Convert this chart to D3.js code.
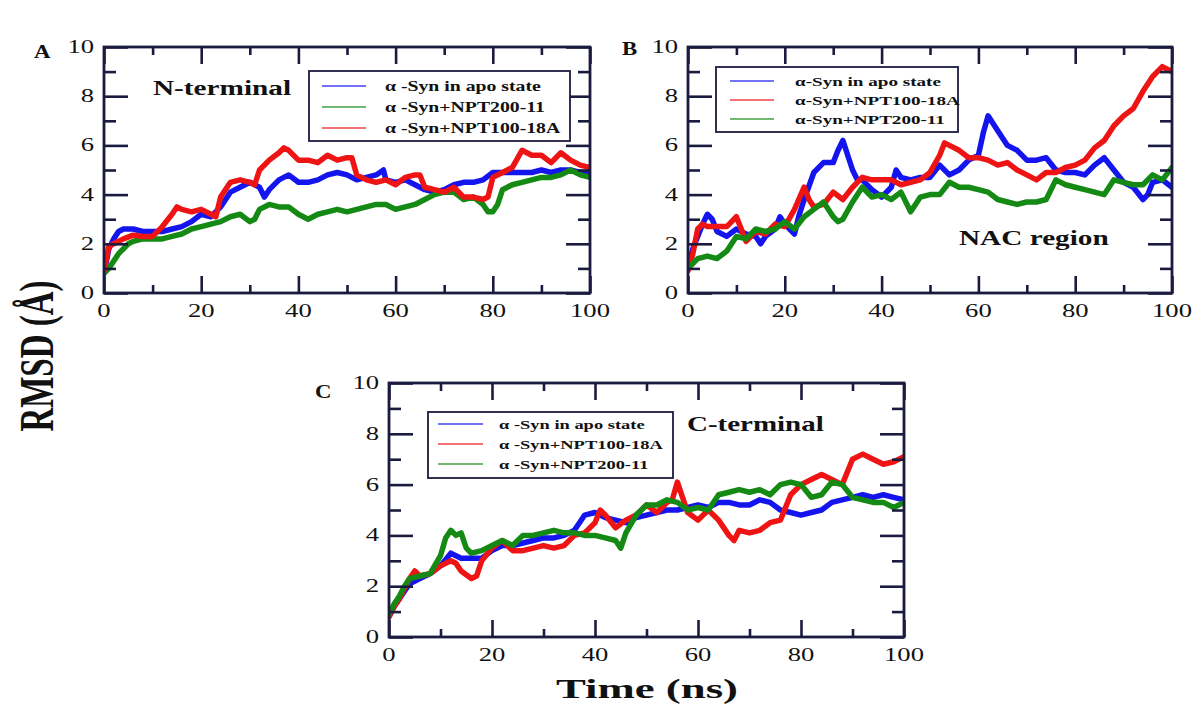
<!DOCTYPE html>
<html>
<head>
<meta charset="utf-8">
<script src="https://cdn.jsdelivr.net/npm/d3@7"></script>
<style>
  body { margin: 0; background: #fff; }
  svg { display: block; }
</style>
</head>
<body>
<svg id="fig" width="1198" height="704"></svg>
<script>
// RMSD (Å) vs time (ns) for three α-synuclein regions, values as [time, rmsd].

// ---- Panel A: N-terminal ----
const A_apo = [[0,0.8],[1,1.8],[2,2.2],[3,2.5],[4,2.6],[6,2.6],[8,2.5],[10,2.5],[12,2.5],[14,2.6],[16,2.7],[18,2.9],[20,3.2],[22,3.1],[24,3.5],[26,4.1],[28,4.3],[30,4.5],[32,4.3],[33,3.9],[34,4.2],[36,4.6],[38,4.8],[40,4.5],[42,4.5],[44,4.6],[46,4.8],[48,4.9],[50,4.8],[52,4.6],[54,4.7],[56,4.8],[57.5,5.0],[58,4.6],[60,4.5],[62,4.6],[64,4.4],[66,4.2],[68,4.1],[70,4.2],[72,4.4],[74,4.5],[76,4.5],[78,4.6],[80,4.9],[82,4.9],[84,4.9],[86,4.9],[88,4.9],[90,5.0],[92,4.9],[94,5.0],[96,5.0],[98,4.9],[100,4.9]];
const A_npt200 = [[0,0.8],[1,1.0],[2,1.3],[3,1.6],[4,1.8],[5,2.0],[6,2.1],[8,2.2],[10,2.2],[12,2.2],[14,2.3],[16,2.4],[18,2.6],[20,2.7],[22,2.8],[24,2.9],[26,3.1],[28,3.2],[30,2.9],[31,3.0],[32,3.4],[34,3.6],[36,3.5],[38,3.5],[40,3.2],[42,3.0],[44,3.2],[46,3.3],[48,3.4],[50,3.3],[52,3.4],[54,3.5],[56,3.6],[58,3.6],[60,3.4],[62,3.5],[64,3.6],[66,3.8],[68,4.0],[70,4.1],[72,4.1],[74,3.8],[76,3.9],[78,3.6],[79,3.3],[80,3.3],[81,3.6],[82,4.2],[84,4.4],[86,4.5],[88,4.6],[90,4.7],[92,4.7],[94,4.8],[96,5.0],[98,4.8],[100,4.7]];
const A_npt100 = [[0,0.9],[1,1.9],[2,2.0],[4,2.2],[6,2.35],[8,2.3],[10,2.3],[12,2.7],[14,3.2],[15,3.5],[16,3.4],[18,3.3],[20,3.4],[22,3.2],[23,3.1],[24,3.9],[26,4.5],[28,4.6],[30,4.5],[31,4.4],[32,5.0],[34,5.4],[36,5.7],[37,5.9],[38,5.8],[40,5.4],[42,5.4],[44,5.3],[46,5.6],[48,5.4],[50,5.5],[51,5.5],[52,4.8],[54,4.6],[56,4.5],[58,4.6],[60,4.4],[62,4.7],[64,4.8],[65,4.8],[66,4.3],[68,4.2],[70,4.1],[72,4.3],[74,3.9],[76,3.9],[78,3.8],[79,3.9],[80,4.7],[82,4.9],[84,5.1],[86,5.8],[88,5.6],[90,5.6],[92,5.3],[94,5.7],[96,5.4],[98,5.2],[100,5.1]];

// ---- Panel B: NAC region ----
const B_apo = [[0,1.0],[1,1.8],[2,2.3],[3,2.8],[4,3.2],[5,3.0],[6,2.5],[8,2.3],[10,2.6],[12,2.4],[14,2.3],[15,2.0],[16,2.3],[18,2.6],[19,3.1],[20,2.8],[22,2.4],[23,3.2],[24,3.8],[26,4.9],[28,5.3],[30,5.3],[31,5.8],[32,6.2],[33,5.6],[34,5.0],[35,4.6],[36,4.6],[38,4.2],[40,3.9],[42,4.3],[43,5.0],[44,4.7],[46,4.6],[48,4.7],[50,4.7],[52,5.2],[54,4.8],[56,5.0],[58,5.4],[60,5.6],[61,6.5],[62,7.2],[63,6.9],[64,6.6],[66,6.0],[68,5.8],[70,5.4],[72,5.4],[74,5.5],[76,5.0],[78,4.9],[80,4.9],[82,4.8],[84,5.2],[86,5.5],[88,5.0],[90,4.5],[92,4.3],[94,3.8],[95,4.0],[96,4.5],[98,4.6],[100,4.3]];
const B_npt100 = [[0,0.9],[1,1.6],[2,2.6],[3,2.8],[4,2.7],[6,2.7],[8,2.7],[10,3.1],[11,2.6],[12,2.1],[14,2.5],[16,2.4],[18,2.8],[20,2.7],[22,3.4],[24,4.3],[25,3.8],[26,3.5],[28,3.6],[30,4.1],[32,3.8],[34,4.3],[36,4.7],[38,4.6],[40,4.6],[42,4.6],[44,4.4],[46,4.5],[48,4.6],[50,4.9],[52,5.6],[53,6.1],[54,6.0],[56,5.8],[58,5.5],[60,5.5],[62,5.4],[64,5.2],[66,5.3],[68,5.0],[70,4.8],[72,4.6],[74,4.9],[76,4.9],[78,5.1],[80,5.2],[82,5.4],[84,5.9],[86,6.2],[88,6.8],[90,7.2],[92,7.5],[94,8.2],[96,8.8],[98,9.2],[100,9.0]];
const B_npt200 = [[0,1.0],[1,1.2],[2,1.4],[4,1.5],[6,1.4],[8,1.7],[10,2.3],[12,2.2],[14,2.6],[16,2.5],[18,2.6],[20,2.9],[22,2.6],[24,3.1],[26,3.4],[28,3.7],[30,3.1],[31,2.9],[32,3.0],[34,3.7],[36,4.3],[38,3.9],[40,4.0],[42,3.8],[44,4.1],[46,3.3],[47,3.6],[48,3.9],[50,4.0],[52,4.0],[54,4.5],[56,4.3],[58,4.3],[60,4.2],[62,4.1],[64,3.8],[66,3.7],[68,3.6],[70,3.7],[72,3.7],[74,3.8],[76,4.6],[78,4.4],[80,4.3],[82,4.2],[84,4.1],[86,4.0],[88,4.6],[90,4.5],[92,4.4],[94,4.4],[96,4.8],[98,4.6],[100,5.1]];

// ---- Panel C: C-terminal ----
const C_apo = [[0,0.8],[1,1.2],[2,1.5],[3,1.8],[4,2.1],[6,2.3],[8,2.5],[10,2.8],[12,3.3],[14,3.1],[16,3.1],[18,3.1],[20,3.4],[22,3.6],[24,3.6],[26,3.7],[28,3.8],[30,3.9],[32,3.9],[34,4.0],[36,4.2],[38,4.8],[40,4.9],[42,4.7],[44,4.6],[46,4.5],[48,4.7],[50,4.8],[52,4.9],[54,5.0],[56,5.0],[58,5.1],[60,5.2],[62,5.1],[64,5.3],[66,5.3],[68,5.2],[70,5.2],[72,5.4],[74,5.3],[76,5.0],[78,4.9],[80,4.8],[82,4.9],[84,5.0],[86,5.3],[88,5.4],[90,5.5],[92,5.6],[94,5.5],[96,5.6],[98,5.5],[100,5.4]];
const C_npt100 = [[0,0.8],[1,1.2],[2,1.5],[4,2.3],[5,2.6],[6,2.4],[8,2.5],[10,2.8],[12,3.0],[13,2.9],[14,2.6],[16,2.3],[17,2.4],[18,3.0],[20,3.5],[22,3.8],[24,3.4],[26,3.4],[28,3.5],[30,3.6],[32,3.5],[34,3.6],[36,4.0],[38,4.1],[40,4.5],[41,5.0],[42,4.8],[44,4.3],[46,4.6],[48,4.8],[50,5.2],[52,4.9],[54,5.3],[55,5.4],[56,6.1],[57,5.5],[58,4.9],[60,4.6],[62,5.0],[64,4.6],[66,4.0],[67,3.8],[68,4.2],[70,4.1],[72,4.2],[74,4.5],[76,4.6],[78,5.6],[80,6.0],[82,6.2],[84,6.4],[86,6.2],[88,6.0],[90,7.0],[92,7.2],[94,7.0],[96,6.8],[98,6.9],[100,7.1]];
const C_npt200 = [[0,0.9],[1,1.3],[2,1.6],[3,2.0],[4,2.3],[6,2.4],[8,2.5],[10,3.2],[11,3.9],[12,4.2],[13,4.0],[14,4.1],[15,3.5],[16,3.3],[18,3.4],[20,3.6],[22,3.8],[24,3.6],[26,4.0],[28,4.0],[30,4.1],[32,4.2],[34,4.1],[36,4.1],[38,4.0],[40,4.0],[42,3.9],[44,3.8],[45,3.5],[46,4.1],[48,4.8],[50,5.2],[52,5.2],[54,5.4],[56,5.3],[58,5.0],[60,5.1],[62,5.0],[64,5.6],[66,5.7],[68,5.8],[70,5.7],[72,5.8],[74,5.6],[76,6.0],[78,6.1],[80,6.0],[82,5.5],[84,5.6],[86,6.1],[88,6.0],[90,5.5],[92,5.4],[94,5.3],[96,5.3],[98,5.1],[100,5.3]];

// Axis ticks and labels
const xMajor = [0, 20, 40, 60, 80, 100];
const xMinor = [10, 30, 50, 70, 90];
const yMajor = [0, 2, 4, 6, 8, 10];
const yMinor = [1, 3, 5, 7, 9];

// Legend labels per panel (in legend order)
const legendA = ["α -Syn in apo state", "α -Syn+NPT200-11", "α -Syn+NPT100-18A"];
const legendB = ["α-Syn in apo state", "α-Syn+NPT100-18A", "α-Syn+NPT200-11"];
const legendC = ["α -Syn in apo state", "α -Syn+NPT100-18A", "α -Syn+NPT200-11"];

const COLORS = { apo: "#1414ee", npt100: "#ee1414", npt200: "#148a14" };
const INK = "#1b1b40";
const SERIF = "'Liberation Serif', 'Times New Roman', serif";

const panels = [
  { id: "A", box: { l: 104, r: 590, t: 47, b: 293 },
    series: [["apo", A_apo], ["npt200", A_npt200], ["npt100", A_npt100]],
    legend: { labels: legendA, keys: ["apo", "npt200", "npt100"],
              x0: 309, y0: 71, x1: 570, y1: 141, lx0: 322, lx1: 366, tx: 385, rows: [86, 107, 128], size: 14, sx: 1.41 },
    title: { text: "N-terminal", x: 153, y: 95, size: 22, sx: 1.33 },
    letter: { x: 34, y: 58 } },
  { id: "B", box: { l: 688, r: 1172, t: 47, b: 293 },
    series: [["apo", B_apo], ["npt100", B_npt100], ["npt200", B_npt200]],
    legend: { labels: legendB, keys: ["apo", "npt100", "npt200"],
              x0: 716, y0: 67, x1: 958, y1: 132, lx0: 730, lx1: 774, tx: 795, rows: [81, 100, 119], size: 13, sx: 1.47 },
    title: { text: "NAC region", x: 959, y: 245, size: 22, sx: 1.33 },
    letter: { x: 622, y: 55 } },
  { id: "C", box: { l: 389, r: 904, t: 383, b: 637 },
    series: [["apo", C_apo], ["npt100", C_npt100], ["npt200", C_npt200]],
    legend: { labels: legendC, keys: ["apo", "npt100", "npt200"],
              x0: 428, y0: 412, x1: 673, y1: 478, lx0: 438, lx1: 483, tx: 499, rows: [424, 444, 464], size: 13, sx: 1.42 },
    title: { text: "C-terminal", x: 687, y: 431, size: 21, sx: 1.38 },
    letter: { x: 315, y: 398 } }
];

const svg = d3.select("#fig");

// Text drawn with a horizontal stretch around its anchor point
function stext(g, x, y, str, o) {
  return g.append("text")
    .attr("transform", `translate(${x},${y}) scale(${o.sx || 1},1)` + (o.rot ? ` rotate(${o.rot})` : ""))
    .attr("text-anchor", o.anchor || "start")
    .attr("font-family", SERIF)
    .attr("font-size", o.size)
    .attr("font-weight", o.weight || "normal")
    .attr("fill", "#111")
    .text(str);
}

// Layer order: data lines, then frames/ticks, then legends and labels.
const lineLayer = svg.append("g");
const frameLayer = svg.append("g");
const labelLayer = svg.append("g");

panels.forEach(p => {
  const { l, r, t, b } = p.box;
  const x = d3.scaleLinear().domain([0, 100]).range([l, r]);
  const y = d3.scaleLinear().domain([0, 10]).range([b, t]);

  // data lines, clipped to the plot area
  const clip = lineLayer.append("svg")
    .attr("x", l).attr("y", t).attr("width", r - l).attr("height", b - t)
    .attr("viewBox", `${l} ${t} ${r - l} ${b - t}`);
  const line = d3.line().x(d => x(d[0])).y(d => y(d[1]));
  p.series.forEach(([key, data]) => {
    clip.append("path").datum(data)
      .attr("d", line)
      .attr("fill", "none")
      .attr("stroke", COLORS[key])
      .attr("stroke-width", 5.5)
      .attr("stroke-linejoin", "round")
      .attr("stroke-linecap", "round");
  });

  // inward ticks on all four sides
  const axes = [
    [d3.axisBottom(x).tickValues(xMajor).tickSize(-17), 0, b],
    [d3.axisBottom(x).tickValues(xMinor).tickSize(-8), 0, b],
    [d3.axisTop(x).tickValues(xMajor).tickSize(-17), 0, t],
    [d3.axisTop(x).tickValues(xMinor).tickSize(-8), 0, t],
    [d3.axisLeft(y).tickValues(yMajor).tickSize(-24), l, 0],
    [d3.axisLeft(y).tickValues(yMinor).tickSize(-12), l, 0],
    [d3.axisRight(y).tickValues(yMajor).tickSize(-24), r, 0],
    [d3.axisRight(y).tickValues(yMinor).tickSize(-12), r, 0]
  ];
  axes.forEach(([ax, dx, dy]) => {
    const a = frameLayer.append("g").attr("transform", `translate(${dx},${dy})`).call(ax);
    a.select(".domain").remove();
    a.selectAll(".tick text").remove();
    a.selectAll(".tick line").attr("stroke", INK).attr("stroke-width", 2.6);
  });

  // plot frame
  frameLayer.append("rect").attr("x", l).attr("y", t).attr("width", r - l).attr("height", b - t)
    .attr("fill", "none").attr("stroke", INK).attr("stroke-width", 2.8);

  // tick labels
  xMajor.forEach(v => stext(labelLayer, x(v), b + 24, String(v), { size: 18, sx: 1.48, anchor: "middle" }));
  yMajor.forEach(v => stext(labelLayer, l - 10, y(v) + 6, String(v), { size: 18, sx: 1.48, anchor: "end" }));

  // legend
  const L = p.legend;
  labelLayer.append("rect").attr("x", L.x0).attr("y", L.y0).attr("width", L.x1 - L.x0).attr("height", L.y1 - L.y0)
    .attr("fill", "#fff").attr("stroke", INK).attr("stroke-width", 1.8);
  L.labels.forEach((lab, i) => {
    labelLayer.append("line").attr("x1", L.lx0).attr("x2", L.lx1).attr("y1", L.rows[i]).attr("y2", L.rows[i])
      .attr("stroke", COLORS[L.keys[i]]).attr("stroke-width", 1.6).attr("stroke-opacity", 0.8);
    stext(labelLayer, L.tx, L.rows[i] + 5, lab, { size: L.size, sx: L.sx, weight: "bold" });
  });

  // region title and panel letter
  stext(labelLayer, p.title.x, p.title.y, p.title.text, { size: p.title.size, sx: p.title.sx, weight: "bold" });
  stext(labelLayer, p.letter.x, p.letter.y, p.id, { size: 19, sx: 1.2, weight: "bold" });
});

// shared axis titles
stext(labelLayer, 53, 356, "RMSD (Å)", { size: 33, sx: 1.45, rot: -90, anchor: "middle", weight: "bold" });
stext(labelLayer, 647, 698, "Time (ns)", { size: 28, sx: 1.6, anchor: "middle", weight: "bold" });
</script>
</body>
</html>
